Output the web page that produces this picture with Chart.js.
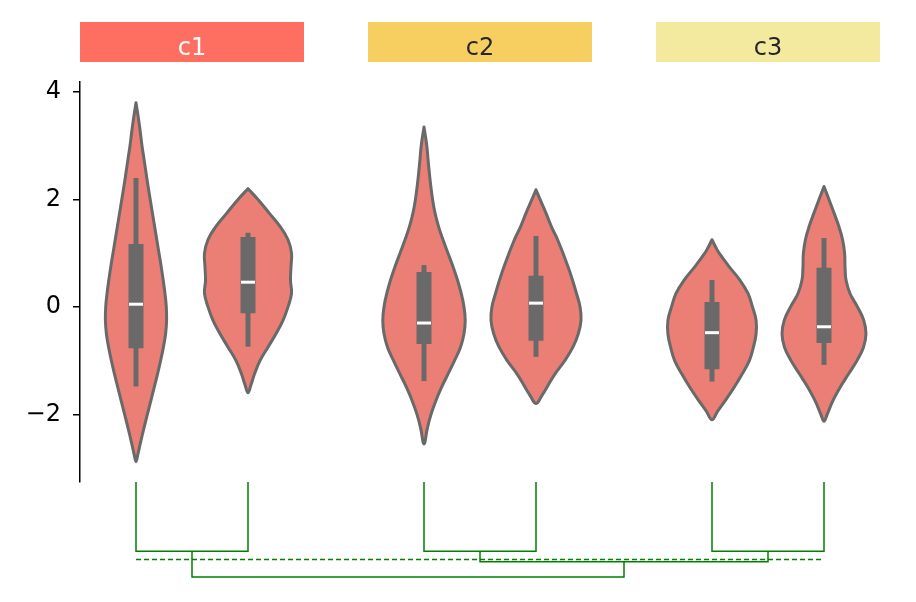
<!DOCTYPE html>
<html>
<head>
<meta charset="utf-8">
<script src="https://cdn.jsdelivr.net/npm/chart.js@4/dist/chart.umd.min.js"></script>
<style>
  html, body { margin: 0; padding: 0; background: #ffffff; }
  canvas { display: block; }
</style>
</head>
<body>
<canvas id="c" width="916" height="602"></canvas>
<script>
// ---------------- DATA ----------------
const categories = ['c1', 'c2', 'c3'];
const violinGroup = [0, 0, 1, 1, 2, 2];
const violinSide = [-1, 1, -1, 1, -1, 1];

// KDE outline: values (top -> bottom) and relative density at each value
const v1Values  = [3.8, 3.5, 3.25, 3.0, 2.75, 2.5, 2.25, 2.0, 1.75, 1.5, 1.25, 1.0, 0.75, 0.5, 0.25, 0.0, -0.25, -0.5, -0.75, -1.0, -1.25, -1.5, -1.75, -2.0, -2.25, -2.5, -2.75, -2.88];
const v1Density = [0, 0.056, 0.096, 0.133, 0.178, 0.222, 0.267, 0.316, 0.364, 0.413, 0.462, 0.511, 0.56, 0.604, 0.644, 0.673, 0.68, 0.658, 0.609, 0.547, 0.478, 0.404, 0.329, 0.253, 0.178, 0.107, 0.04, 0];
const v2Values  = [2.2, 2.0, 1.75, 1.5, 1.25, 1.0, 0.75, 0.5, 0.25, 0.0, -0.25, -0.5, -0.75, -1.0, -1.25, -1.45, -1.6];
const v2Density = [0, 0.222, 0.467, 0.711, 0.889, 0.967, 0.956, 0.944, 0.967, 0.889, 0.778, 0.622, 0.444, 0.267, 0.144, 0.067, 0];
const v3Values  = [3.35, 3.0, 2.75, 2.5, 2.25, 2.0, 1.75, 1.5, 1.25, 1.0, 0.75, 0.5, 0.25, 0.0, -0.25, -0.5, -0.75, -1.0, -1.25, -1.5, -1.75, -2.0, -2.25, -2.55];
const v3Density = [0, 0.062, 0.089, 0.118, 0.151, 0.191, 0.244, 0.322, 0.422, 0.533, 0.644, 0.744, 0.827, 0.889, 0.916, 0.889, 0.811, 0.678, 0.533, 0.389, 0.262, 0.156, 0.076, 0];
const v4Values  = [2.18, 2.0, 1.75, 1.5, 1.25, 1.0, 0.75, 0.5, 0.25, 0.0, -0.25, -0.5, -0.75, -1.0, -1.25, -1.5, -1.65, -1.8];
const v4Density = [0, 0.09, 0.22, 0.34, 0.48, 0.6, 0.71, 0.81, 0.9, 0.98, 1.0, 0.94, 0.82, 0.64, 0.42, 0.24, 0.13, 0];
const v5Values  = [1.25, 1.1, 1.0, 0.75, 0.5, 0.25, 0.0, -0.25, -0.5, -0.75, -1.0, -1.25, -1.5, -1.75, -1.95, -2.1];
const v5Density = [0, 0.09, 0.16, 0.38, 0.62, 0.8, 0.9, 0.98, 0.98, 0.92, 0.83, 0.67, 0.49, 0.29, 0.12, 0];
const v6Values  = [2.24, 2.0, 1.75, 1.5, 1.25, 1.0, 0.75, 0.5, 0.25, 0.0, -0.25, -0.5, -0.75, -1.0, -1.25, -1.5, -1.75, -2.0, -2.13];
const v6Density = [0, 0.111, 0.222, 0.329, 0.413, 0.458, 0.467, 0.489, 0.578, 0.744, 0.884, 0.933, 0.878, 0.733, 0.544, 0.356, 0.196, 0.071, 0];

// inner box plot statistics
const whiskerHigh = [2.40, 1.38, 0.78, 1.32, 0.50, 1.28];
const q3          = [1.17, 1.30, 0.65, 0.58, 0.09, 0.73];
const medians     = [0.05, 0.46, -0.30, 0.07, -0.48, -0.37];
const q1          = [-0.77, -0.12, -0.69, -0.63, -1.16, -0.67];
const whiskerLow  = [-1.48, -0.74, -1.38, -0.93, -1.39, -1.08];

// y tick labels
const yTicks = [-2, 0, 2, 4];

// dendrogram: links join nodes (0..5 leaves, 6.. links in order), merge heights
const dendroLinks = [[0, 1], [2, 3], [4, 5], [7, 8], [6, 9]];
const dendroHeights = [1.0, 1.0, 1.0, 1.15, 1.37];
const dendroThreshold = 1.12;

// ---------------- STYLE ----------------
const categoryColors = ['#FF6F61', '#F7CF60', '#F3E99F'];
const categoryTextColors = ['#ffffff', '#262626', '#262626'];
const violinFill = '#EB7F75';
const gray = '#696969';
const groupHalf = 112 / 288;      // half width of a group slot (group units)
const sideOffset = 56 / 288;      // violin offset from group centre
const violinHalfWidth = 45 / 288; // half width at density 1
const medianHalf = 7 / 288;

// ---------------- BUILD ----------------
const violinValues = [v1Values, v2Values, v3Values, v4Values, v5Values, v6Values];
const violinDensity = [v1Density, v2Density, v3Density, v4Density, v5Density, v6Density];
const pos = violinGroup.map((g, i) => g + violinSide[i] * sideOffset);

const datasets = [];

pos.forEach((p, i) => {
  datasets.push({
    data: [{x: p - medianHalf, y: medians[i]}, {x: p + medianHalf, y: medians[i]}],
    borderColor: '#ffffff', borderWidth: 3, borderCapStyle: 'butt', order: 0
  });
});
pos.forEach((p, i) => {
  datasets.push({
    data: [{x: p, y: q1[i]}, {x: p, y: q3[i]}],
    borderColor: gray, borderWidth: 15, borderCapStyle: 'butt', order: 1
  });
});
pos.forEach((p, i) => {
  datasets.push({
    data: [{x: p, y: whiskerLow[i]}, {x: p, y: whiskerHigh[i]}],
    borderColor: gray, borderWidth: 5, borderCapStyle: 'butt', order: 2
  });
});
pos.forEach((p, i) => {
  const vals = violinValues[i], dens = violinDensity[i];
  const pts = [];
  for (let k = 0; k < vals.length; k++) pts.push({x: p + dens[k] * violinHalfWidth, y: vals[k]});
  for (let k = vals.length - 2; k >= 0; k--) pts.push({x: p - dens[k] * violinHalfWidth, y: vals[k]});
  datasets.push({
    data: pts, borderColor: gray, borderWidth: 3, backgroundColor: violinFill,
    fill: 'shape', tension: 0.4, borderJoinStyle: 'round', borderCapStyle: 'round', order: 3
  });
});
const nodeX = pos.slice();
const nodeH = pos.map(() => 0);
dendroLinks.forEach((lk, j) => {
  const [a, b] = lk;
  const h = dendroHeights[j];
  datasets.push({
    data: [{x: nodeX[a], y: nodeH[a]}, {x: nodeX[a], y: h}, {x: nodeX[b], y: h}, {x: nodeX[b], y: nodeH[b]}],
    yAxisID: 'yd', borderColor: '#008000', borderWidth: 1.5, clip: false, tension: 0, order: 4
  });
  nodeX.push((nodeX[a] + nodeX[b]) / 2);
  nodeH.push(h);
});
datasets.push({
  data: [{x: pos[0], y: dendroThreshold}, {x: pos[pos.length - 1], y: dendroThreshold}],
  yAxisID: 'yd', borderColor: '#008000', borderWidth: 1.5, borderDash: [5, 3], clip: false, order: 4
});

datasets.forEach(d => { d.showLine = true; d.pointRadius = 0; d.pointHoverRadius = 0; if (d.fill === undefined) d.fill = false; });

const headerPlugin = {
  id: 'header',
  afterDraw(chart) {
    const ctx = chart.ctx, xs = chart.scales.x;
    ctx.save();
    categories.forEach((c, i) => {
      const x0 = xs.getPixelForValue(i - groupHalf);
      const x1 = xs.getPixelForValue(i + groupHalf);
      ctx.fillStyle = categoryColors[i];
      ctx.fillRect(x0, 22, x1 - x0, 40);
      ctx.fillStyle = categoryTextColors[i];
      ctx.font = '24px "DejaVu Sans"';
      ctx.textAlign = 'center';
      ctx.textBaseline = 'alphabetic';
      ctx.fillText(c, (x0 + x1) / 2, 55);
    });
    ctx.restore();
  }
};

Chart.defaults.font.family = '"DejaVu Sans"';
new Chart(document.getElementById('c'), {
  type: 'scatter',
  data: { datasets },
  plugins: [headerPlugin],
  options: {
    responsive: false,
    animation: false,
    devicePixelRatio: 1,
    layout: { padding: { left: 0, right: 36, top: 82, bottom: 120 } },
    plugins: { legend: { display: false }, tooltip: { enabled: false } },
    scales: {
      x: { type: 'linear', display: false, min: -groupHalf, max: 2 + groupHalf },
      y: {
        type: 'linear', min: -3.259, max: 4.186,
        afterFit(s) { s.width = 80; },
        afterBuildTicks(s) { s.ticks = yTicks.map(v => ({value: v})); },
        grid: { drawOnChartArea: false, drawTicks: true, tickLength: 7, color: '#000000', lineWidth: 1.5 },
        border: { display: true, color: '#000000', width: 1.5 },
        ticks: {
          color: '#000000', padding: 12, font: { size: 24 },
          callback: v => (v < 0 ? '\u2212' + Math.abs(v) : String(v))
        }
      },
      yd: { type: 'linear', display: false, reverse: true, min: -400 / 69.3, max: 0 }
    }
  }
});
</script>
</body>
</html>
